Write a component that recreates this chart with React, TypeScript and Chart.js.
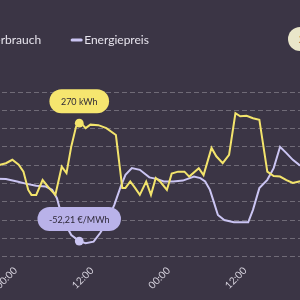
import React, { useEffect, useRef } from 'react';
import { Chart, registerables } from 'chart.js';

Chart.register(...registerables);

// ---------- data ----------
const SERIES_LABELS = ['Energieverbrauch', 'Energiepreis'];
const SERIES_UNITS = ['kWh', '€/MWh'];
const TICK_LABELS = ['00:00', '12:00'];
const TICK_STEP_HOURS = 12;
const HIGHLIGHT_HOUR = 10;

const CONSUMPTION_HOURS = [
  -3, -1.5, -0.5, 0.5, 1.25, 2, 2.5, 3.25, 4.25, 5.25, 6.25, 7.25, 8, 8.75, 9.5, 10,
  10.5, 11, 11.75, 13, 14.25, 15.75, 16.75, 17.25, 18, 18.75, 19.5, 20.5, 21.25, 22,
  22.75, 23.75, 24.5, 25.5, 26.5, 27.25, 28.75, 29.5, 30.75, 31.5, 32.5, 33.5, 34.5,
  35.25, 36.25, 37.25, 38.25, 39.5, 40.5, 41.5, 42.5, 43.5, 44.5, 45.5,
];
const CONSUMPTION_KWH = [
  184, 189, 196, 186, 172, 135, 125, 125, 155, 139, 125, 182, 169, 223, 263, 270,
  267, 260, 267, 266, 260, 246, 139, 139, 152, 139, 125, 152, 125, 159,
  151, 135, 168, 172, 172, 162, 179, 165, 220, 203, 189, 206, 290,
  284, 285, 280, 277, 172, 163, 162, 155, 149, 152, 154,
];

const PRICE_HOURS = [
  -3, -1.5, 0.25, 1.75, 3.25, 4.75, 5.75, 6.5, 7, 7.75, 8.75, 10, 11, 12.25, 13.25,
  14.25, 15.5, 16.5, 17.25, 18.25, 19.5, 21, 22.25, 23.25, 24.75, 26.25, 28, 29,
  29.75, 30.5, 31, 31.75, 32.75, 34.25, 36.5, 37.25, 38.25, 39.5, 40.5, 41.5, 42.5,
  43.5, 44.5, 45.5,
];
const PRICE_EUR_MWH = [
  -1.2, -1.4, -3.4, -5.3, -6.9, -7.5, -10.2, -17, -26.6, -37.6, -47.2, -52.21, -54,
  -52.7, -45.8, -37.6, -22.5, -7.5, 2.1, 7.6, 6.2, 0, -1.4, -3.4, -3.4, -2.6, 0.7,
  -0.6, -3.4, -10.2, -18.4, -30.8, -34.9, -36.8, -36.8, -26.6, -8.8, -2, 7.6, 25.1,
  19.9, 14.4, 10.3, 7.8,
];

const KWH_MIN = 0;
const KWH_MAX = 333;
const KWH_STEP = 37;
const PRICE_MIN = -65;
const PRICE_MAX = 70;

// ---------- style / layout ----------
const BG = '#3b3545';
const YELLOW = '#f3e46c';
const LAVENDER = '#cbc5f3';
const PILL_COLORS = ['#f6e66f', '#b9b2e9'];
const PILL_TEXT = '#2e2938';
const GRID = 'rgba(255,255,255,0.27)';
const LEGEND_TEXT = '#e6e3ec';
const TICK_TEXT = '#d6d2dd';
const FONT = 'Lato, "Noto Sans", sans-serif';

const VIEW = 300;
const X0 = 15.5; // page x of hour 0
const PX_PER_HOUR = 6.375;
const LEGEND_PAD = 34;
const LEGEND_FONT = 12;
const LEGEND_BOX_W = 3;
const LEGEND_TEXT_END = 41;
const LEGEND_H = 92;
const AXIS_H = 43.3;

function fmtValue(di: number, v: number): string {
  if (di === 0) return `${Math.round(v)} ${SERIES_UNITS[0]}`;
  return `${v.toLocaleString('de-DE', { minimumFractionDigits: 2, maximumFractionDigits: 2 })} ${SERIES_UNITS[1]}`;
}

const legendHeightPlugin = {
  id: 'legendHeight',
  beforeLayout(chart: any) {
    const legend = chart.legend;
    if (!legend || legend.__patched) return;
    const orig = legend.fit;
    legend.fit = function () {
      orig.call(this);
      this.height = LEGEND_H;
    };
    legend.__patched = true;
  },
};

const highlightPlugin = {
  id: 'highlight',
  afterDatasetsDraw(chart: any) {
    const ctx = chart.ctx as CanvasRenderingContext2D;
    chart.data.datasets.forEach((ds: any, di: number) => {
      const idx = ds.data.findIndex((p: any) => p.x === HIGHLIGHT_HOUR);
      if (idx < 0) return;
      const el = chart.getDatasetMeta(di).data[idx];
      const x = el.x;
      const y = el.y;
      ctx.save();
      ctx.beginPath();
      ctx.arc(x, y, 4.4, 0, Math.PI * 2);
      ctx.fillStyle = ds.borderColor;
      ctx.fill();
      ctx.font = `9px ${FONT}`;
      const text = fmtValue(di, ds.data[idx].y);
      const tw = ctx.measureText(text).width;
      const h = 24;
      const w = tw + 23;
      const bx = x - w / 2;
      const by = y - 10 - h;
      ctx.beginPath();
      (ctx as any).roundRect(bx, by, w, h, h / 2);
      ctx.fillStyle = PILL_COLORS[di];
      ctx.fill();
      ctx.fillStyle = PILL_TEXT;
      ctx.textAlign = 'center';
      ctx.textBaseline = 'middle';
      ctx.fillText(text, x, by + h / 2 + 0.5);
      ctx.restore();
    });
  },
};

export default function App() {
  const ref = useRef<HTMLCanvasElement | null>(null);

  useEffect(() => {
    const canvas = ref.current!;
    const m = document.createElement('canvas').getContext('2d')!;
    m.font = `${LEGEND_FONT}px ${FONT}`;
    const w1 = m.measureText(SERIES_LABELS[0]).width;
    const L = Math.round(LEGEND_PAD + LEGEND_BOX_W + LEGEND_FONT / 2 + w1 - LEGEND_TEXT_END);
    const CW = L + VIEW + 50;
    canvas.width = CW;
    canvas.height = VIEW;
    canvas.style.width = CW + 'px';
    canvas.style.height = VIEW + 'px';
    canvas.style.left = -L + 'px';
    const xMin = (-L - X0) / PX_PER_HOUR;
    const xMax = (CW - L - X0) / PX_PER_HOUR;

    const chart = new Chart(canvas, {
      type: 'line',
      data: {
        datasets: [
          {
            label: SERIES_LABELS[0],
            data: CONSUMPTION_HOURS.map((h, i) => ({ x: h, y: CONSUMPTION_KWH[i] })),
            borderColor: YELLOW,
            backgroundColor: YELLOW,
            borderWidth: 2,
            pointRadius: 0,
            tension: 0,
            yAxisID: 'y',
          },
          {
            label: SERIES_LABELS[1],
            data: PRICE_HOURS.map((h, i) => ({ x: h, y: PRICE_EUR_MWH[i] })),
            borderColor: LAVENDER,
            backgroundColor: LAVENDER,
            borderWidth: 2,
            pointRadius: 0,
            tension: 0,
            yAxisID: 'y1',
          },
        ],
      },
      options: {
        responsive: false,
        animation: false,
        devicePixelRatio: 1,
        layout: { padding: 0 },
        events: [],
        plugins: {
          tooltip: { enabled: false },
          legend: {
            position: 'top',
            align: 'start',
            labels: {
              color: LEGEND_TEXT,
              font: { family: FONT, size: LEGEND_FONT },
              padding: LEGEND_PAD,
              usePointStyle: true,
              boxWidth: LEGEND_BOX_W,
              boxHeight: 6.4,
              generateLabels: (c: any) =>
                c.data.datasets.map((ds: any, i: number) => ({
                  text: ds.label,
                  fillStyle: ds.borderColor,
                  strokeStyle: ds.borderColor,
                  lineWidth: 3,
                  lineCap: 'round',
                  pointStyle: 'line',
                  hidden: false,
                  datasetIndex: i,
                  fontColor: LEGEND_TEXT,
                })),
            },
          },
        },
        scales: {
          x: {
            type: 'linear',
            min: xMin,
            max: xMax,
            grid: { display: false, drawTicks: false },
            border: { display: false },
            afterFit: (s: any) => {
              s.height = AXIS_H;
            },
            ticks: {
              stepSize: TICK_STEP_HOURS,
              includeBounds: false,
              autoSkip: false,
              maxRotation: 45,
              minRotation: 45,
              padding: 8,
              color: TICK_TEXT,
              font: { family: FONT, size: 10 },
              callback: (v: any) => {
                const n = Number(v);
                const k = (((n / TICK_STEP_HOURS) % 2) + 2) % 2;
                return TICK_LABELS[k];
              },
            },
          },
          y: {
            position: 'left',
            min: KWH_MIN,
            max: KWH_MAX,
            grid: { color: GRID, lineWidth: 1, drawTicks: false },
            border: { display: false, dash: [5, 3] },
            ticks: { display: false, stepSize: KWH_STEP },
          },
          y1: {
            display: false,
            min: PRICE_MIN,
            max: PRICE_MAX,
          },
        },
      },
      plugins: [legendHeightPlugin, highlightPlugin],
    } as any);
    return () => chart.destroy();
  }, []);

  return (
    <div
      style={{
        position: 'fixed',
        left: 0,
        top: 0,
        width: VIEW,
        height: VIEW,
        overflow: 'hidden',
        background: BG,
      }}
    >
      <canvas ref={ref} style={{ position: 'absolute', top: 0, left: 0 }} />
      <div
        style={{
          position: 'absolute',
          left: 287.5,
          top: 26.5,
          width: 24,
          height: 24,
          borderRadius: '50%',
          background: '#e9e6c9',
          color: '#2e2938',
          fontFamily: FONT,
          fontSize: 12,
          fontWeight: 700,
          lineHeight: '24px',
          textAlign: 'center',
          textIndent: 6,
          overflow: 'hidden',
        }}
      >
        2
      </div>
    </div>
  );
}
